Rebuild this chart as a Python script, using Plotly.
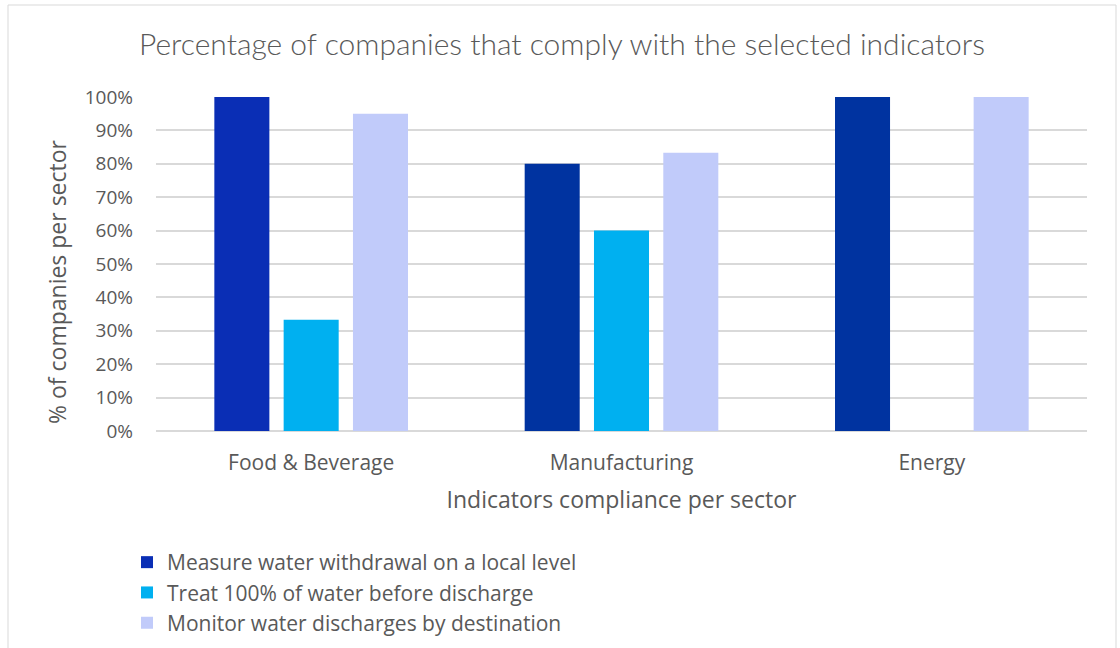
import plotly.graph_objects as go

sectors = ["Food & Beverage", "Manufacturing", "Energy"]
series_names = [
    "Measure water withdrawal on a local level",
    "Treat 100% of water before discharge",
    "Monitor water discharges by destination",
]
measure_withdrawal = [100, 80, 100]
treat_before_discharge = [33.3, 60, 0]
monitor_discharges = [95, 83.3, 100]

values = [measure_withdrawal, treat_before_discharge, monitor_discharges]
colors = [
    ["#0a2eb5", "#0033a0", "#0033a0"],
    ["#00b0f0", "#00b0f0", "#00b0f0"],
    ["#c1cbfa", "#c1cbfa", "#c1cbfa"],
]

text_color = "#595959"
grid_color = "#d9d9d9"

fig = go.Figure()
for name, vals, cols in zip(series_names, values, colors):
    fig.add_trace(go.Bar(
        name=name, x=sectors, y=vals,
        marker=dict(color=cols, line=dict(width=0)),
        hovertemplate="%{x}: %{y}%<extra>" + name + "</extra>",
    ))

# chart frame
ml, mr, mt, mb = 156, 33, 97, 217
W, H = 1120, 648
pw, ph = W - ml - mr, H - mt - mb
def px_x(px):
    return (px - ml) / pw
def px_y(py):
    return (H - mb - py) / ph

fig.add_shape(type="rect", xref="paper", yref="paper",
              x0=px_x(8), x1=px_x(1116), y0=px_y(660), y1=px_y(5),
              line=dict(color=grid_color, width=1), fillcolor="rgba(0,0,0,0)",
              layer="below")

# vertical axis title
fig.add_annotation(
    text="% of companies per sector", textangle=-90,
    xref="paper", yref="paper", x=px_x(57), y=px_y(282),
    xanchor="center", yanchor="middle", showarrow=False,
    font=dict(size=23, color=text_color),
)

fig.update_layout(
    width=W, height=H,
    margin=dict(l=ml, r=mr, t=mt, b=mb, autoexpand=False),
    paper_bgcolor="white", plot_bgcolor="white",
    font=dict(family="Open Sans, sans-serif", color=text_color),
    title=dict(
        text="Percentage of companies that comply with the selected indicators",
        font=dict(family="Lato, sans-serif", size=30, color=text_color, weight=300),
        x=px_x(562), xref="paper", xanchor="center",
        y=1 - 44 / H, yanchor="middle",
    ),
    barmode="group", bargap=0.33, bargroupgap=0.206,
    showlegend=True,
    legend=dict(
        orientation="v", x=px_x(127), y=px_y(542), xanchor="left", yanchor="top",
        font=dict(size=21, color=text_color), traceorder="normal",
        bgcolor="rgba(0,0,0,0)",
    ),
    xaxis=dict(
        title=dict(text="Indicators compliance per sector",
                   font=dict(size=23, color=text_color), standoff=16),
        tickfont=dict(size=21, color=text_color),
        showgrid=False, showline=False, ticks="",
        ticklabelstandoff=17,
    ),
    yaxis=dict(
        range=[0, 100], dtick=10, ticksuffix="%",
        tickfont=dict(size=19, color=text_color),
        showgrid=True, gridcolor=grid_color, gridwidth=1.5,
        zeroline=True, zerolinecolor=grid_color, zerolinewidth=1.5,
        showline=False, ticks="", ticklabelstandoff=22,
    ),
)

fig.write_html("out.html")
